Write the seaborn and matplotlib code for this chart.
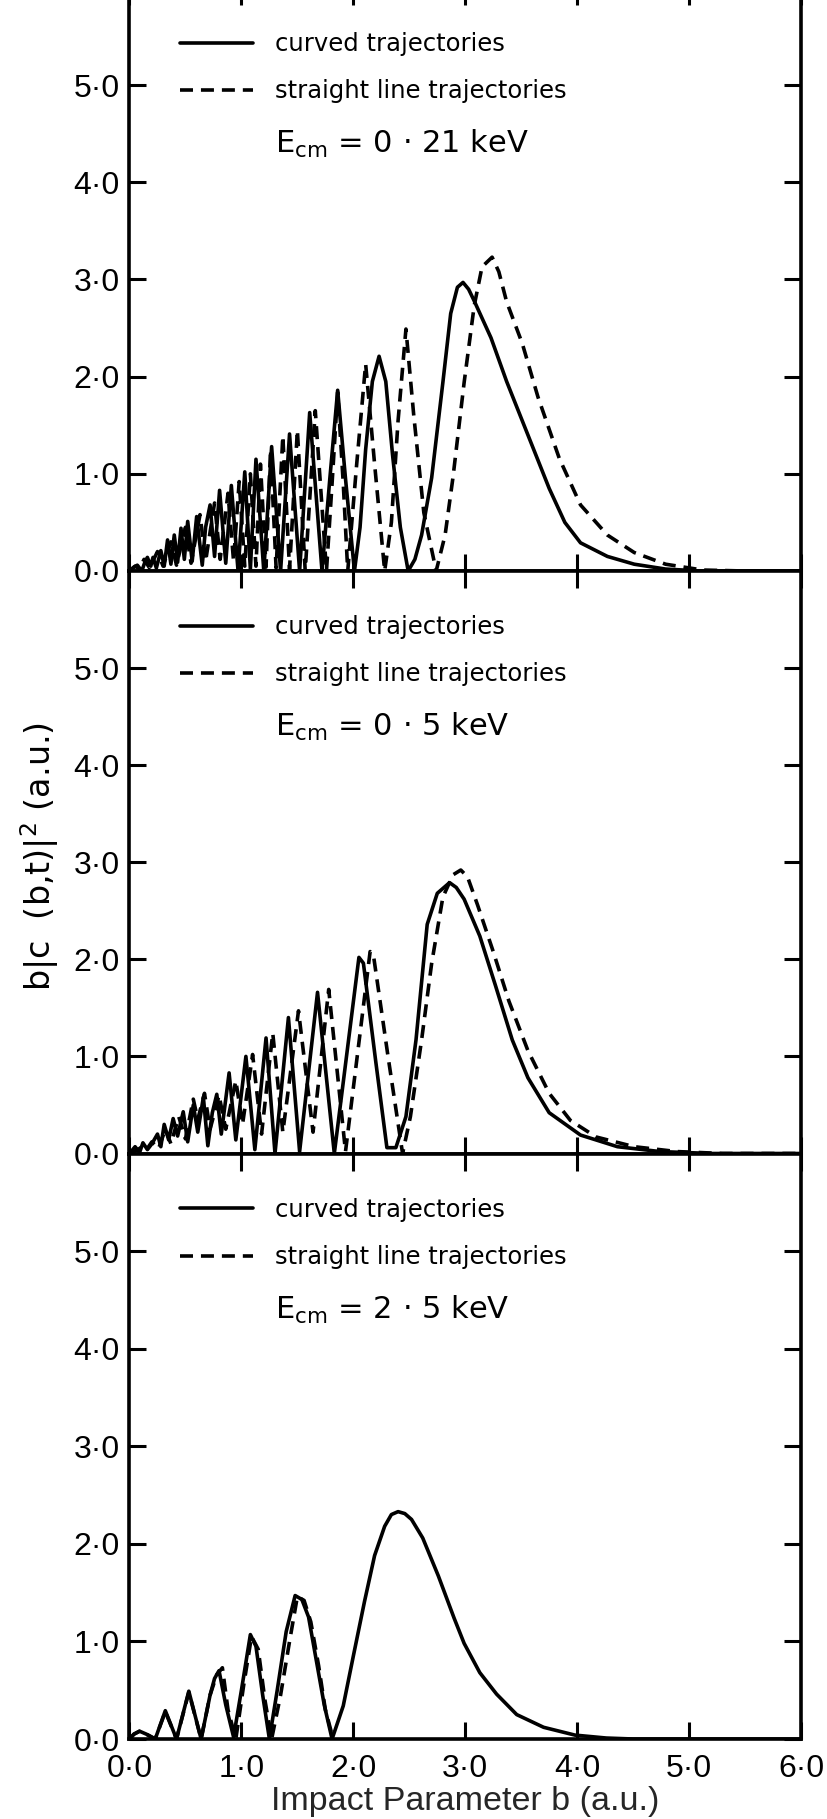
import numpy as np
import pandas as pd
import matplotlib
matplotlib.use("Agg")
import matplotlib.pyplot as plt
import seaborn as sns

# ---- data: impact-parameter weighted capture probability b|c(b,t)|^2 ----
# (b, value) pairs, E_cm = 0.21 keV
curved_021 = [
    (0.00, 0.00), (0.04, 0.04), (0.07, 0.06), (0.11, 0.00), (0.14, 0.10), (0.16, 0.14),
    (0.19, 0.05), (0.21, 0.14), (0.24, 0.03), (0.28, 0.21), (0.31, 0.05), (0.34, 0.32),
    (0.37, 0.07), (0.40, 0.37), (0.43, 0.09), (0.46, 0.44), (0.49, 0.12), (0.52, 0.51),
    (0.56, 0.10), (0.60, 0.56), (0.65, 0.06), (0.68, 0.45), (0.72, 0.68), (0.76, 0.15),
    (0.805, 0.83), (0.86, 0.08), (0.91, 0.88), (0.97, 0.00), (1.03, 1.02), (1.08, 0.02),
    (1.13, 1.15), (1.20, 0.00), (1.27, 1.28), (1.35, 0.00), (1.43, 1.41), (1.52, 0.00),
    (1.61, 1.63), (1.72, 0.00), (1.79, 0.95), (1.86, 1.86), (1.93, 0.95), (2.01, 0.00),
    (2.06, 0.45), (2.11, 1.25), (2.17, 1.95), (2.23, 2.21), (2.29, 1.95), (2.35, 1.20),
    (2.42, 0.45), (2.49, 0.00), (2.55, 0.12), (2.61, 0.37), (2.70, 0.96), (2.80, 1.94),
    (2.87, 2.65), (2.93, 2.92), (2.98, 2.97), (3.03, 2.90), (3.08, 2.78), (3.23, 2.40),
    (3.37, 1.95), (3.56, 1.40), (3.75, 0.85), (3.89, 0.50), (4.03, 0.29), (4.27, 0.15),
    (4.51, 0.07), (4.79, 0.02), (5.10, 0.00), (6.00, 0.00),
]
straight_021 = [
    (0.00, 0.00), (0.05, 0.05), (0.09, 0.02), (0.13, 0.12), (0.18, 0.03), (0.25, 0.20),
    (0.30, 0.05), (0.37, 0.30), (0.42, 0.06), (0.50, 0.45), (0.55, 0.08), (0.63, 0.58),
    (0.68, 0.10), (0.76, 0.70), (0.81, 0.12), (0.88, 0.80), (0.93, 0.10), (0.98, 0.92),
    (1.03, 0.05), (1.08, 1.00), (1.13, 0.05), (1.17, 1.10), (1.22, 0.04), (1.26, 1.25),
    (1.31, 0.03), (1.37, 1.39), (1.43, 0.02), (1.50, 1.45), (1.57, 0.00), (1.66, 1.65),
    (1.76, 0.00), (1.81, 0.90), (1.86, 1.84), (1.91, 0.90), (1.95, 0.00), (2.03, 1.10),
    (2.11, 2.13), (2.19, 1.10), (2.28, 0.00), (2.34, 0.50), (2.40, 1.55), (2.47, 2.49),
    (2.54, 1.60), (2.63, 0.60), (2.74, 0.00), (2.82, 0.37), (2.89, 0.96), (2.99, 1.94),
    (3.08, 2.73), (3.15, 3.13), (3.24, 3.23), (3.30, 3.08), (3.37, 2.77), (3.51, 2.34),
    (3.65, 1.79), (3.84, 1.16), (4.03, 0.68), (4.27, 0.37), (4.51, 0.19), (4.79, 0.07),
    (5.12, 0.01), (5.50, 0.00), (6.00, 0.00),
]

# E_cm = 0.5 keV
curved_05 = [
    (0.00, 0.00), (0.05, 0.07), (0.09, 0.01), (0.12, 0.11), (0.16, 0.04), (0.20, 0.10),
    (0.25, 0.20), (0.28, 0.07), (0.31, 0.30), (0.35, 0.14), (0.39, 0.36), (0.43, 0.18),
    (0.48, 0.43), (0.52, 0.12), (0.57, 0.50), (0.61, 0.22), (0.66, 0.58), (0.70, 0.08),
    (0.74, 0.42), (0.78, 0.61), (0.82, 0.20), (0.89, 0.83), (0.95, 0.14), (1.04, 1.00),
    (1.12, 0.04), (1.22, 1.19), (1.30, 0.00), (1.42, 1.40), (1.52, 0.02), (1.68, 1.66),
    (1.83, 0.00), (2.05, 2.02), (2.09, 1.96), (2.20, 0.95), (2.30, 0.06), (2.38, 0.06),
    (2.47, 0.38), (2.56, 1.17), (2.66, 2.36), (2.75, 2.68), (2.86, 2.79), (2.92, 2.74),
    (2.99, 2.62), (3.13, 2.24), (3.27, 1.73), (3.42, 1.17), (3.56, 0.78), (3.75, 0.42),
    (4.03, 0.19), (4.36, 0.07), (4.74, 0.02), (5.20, 0.00), (6.00, 0.00),
]
straight_05 = [
    (0.00, 0.00), (0.06, 0.03), (0.10, 0.06), (0.14, 0.02), (0.20, 0.12), (0.26, 0.05),
    (0.32, 0.25), (0.37, 0.10), (0.44, 0.38), (0.50, 0.15), (0.57, 0.56), (0.61, 0.35),
    (0.67, 0.62), (0.72, 0.25), (0.80, 0.60), (0.86, 0.25), (0.95, 0.75), (1.01, 0.30),
    (1.10, 1.02), (1.18, 0.20), (1.28, 1.24), (1.37, 0.22), (1.51, 1.47), (1.64, 0.22),
    (1.78, 1.69), (1.93, 0.02), (2.15, 2.08), (2.18, 2.04), (2.31, 1.00), (2.44, 0.00),
    (2.51, 0.38), (2.61, 1.17), (2.70, 1.96), (2.80, 2.64), (2.89, 2.87), (2.96, 2.92),
    (3.02, 2.85), (3.11, 2.56), (3.25, 2.08), (3.39, 1.57), (3.56, 1.06), (3.75, 0.62),
    (3.94, 0.34), (4.17, 0.17), (4.51, 0.07), (4.89, 0.02), (5.30, 0.00), (6.00, 0.00),
]

# E_cm = 2.5 keV
curved_25 = [
    (0.00, 0.00), (0.04, 0.05), (0.09, 0.08), (0.15, 0.05), (0.23, 0.00), (0.32, 0.29),
    (0.42, 0.00), (0.53, 0.49), (0.64, 0.00), (0.72, 0.45), (0.76, 0.62), (0.80, 0.70),
    (0.86, 0.35), (0.93, 0.02), (1.00, 0.50), (1.08, 1.07), (1.13, 0.95), (1.19, 0.45),
    (1.25, 0.00), (1.32, 0.50), (1.40, 1.10), (1.48, 1.47), (1.54, 1.43), (1.60, 1.25),
    (1.67, 0.80), (1.74, 0.35), (1.81, 0.00), (1.91, 0.34), (2.00, 0.85), (2.10, 1.41),
    (2.19, 1.88), (2.28, 2.18), (2.34, 2.30), (2.40, 2.33), (2.46, 2.31), (2.52, 2.25),
    (2.62, 2.06), (2.76, 1.67), (2.90, 1.24), (2.99, 0.98), (3.13, 0.68), (3.28, 0.46),
    (3.46, 0.25), (3.70, 0.12), (3.98, 0.04), (4.26, 0.01), (4.50, 0.00), (6.00, 0.00),
]
straight_25 = [
    (0.00, 0.00), (0.04, 0.05), (0.09, 0.08), (0.15, 0.05), (0.23, 0.00), (0.32, 0.28),
    (0.42, 0.00), (0.53, 0.48), (0.64, 0.00), (0.72, 0.45), (0.78, 0.66), (0.83, 0.73),
    (0.88, 0.30), (0.95, 0.00), (1.02, 0.55), (1.09, 1.05), (1.15, 0.92), (1.21, 0.40),
    (1.27, 0.00), (1.35, 0.45), (1.43, 1.00), (1.50, 1.46), (1.56, 1.42), (1.62, 1.20),
    (1.69, 0.75), (1.75, 0.30), (1.82, 0.00),
]

energy_labels = ["0 · 21", "0 · 5", "2 · 5"]
series_labels = ["curved trajectories", "straight line trajectories"]
tick_values = [0, 1, 2, 3, 4, 5, 6]
tick_text = ["0·0", "1·0", "2·0", "3·0", "4·0", "5·0", "6·0"]
x_title = "Impact Parameter b (a.u.)"
y_title = "b|c  (b,t)|$^{2}$ (a.u.)"

panels = [
    (curved_021, straight_021, energy_labels[0]),
    (curved_05, straight_05, energy_labels[1]),
    (curved_25, straight_25, energy_labels[2]),
]

# ---- style ----
sns.set_theme(style="white")
plt.rcParams["font.family"] = ["DejaVu Sans"]
plt.rcParams["mathtext.fontset"] = "dejavusans"
plt.rcParams["axes.edgecolor"] = "black"
plt.rcParams["text.color"] = "black"
plt.rcParams["xtick.color"] = "black"
plt.rcParams["ytick.color"] = "black"

W, H = 828, 1819
fig = plt.figure(figsize=(W / 100, H / 100), dpi=100, facecolor="white")

left_px, right_px = 129.5, 801
panel_edges_px = [(-12, 571), (571, 1153.5), (1153.5, 1739)]

label_family = ["Liberation Sans", "DejaVu Sans"]
tick_font = dict(family=label_family, size=23)
dash_pattern = (3.6, 2.2)
lw = 2.6
spine_w = 2.6

for i, (curved, straight, energy) in enumerate(panels):
    top_px, bot_px = panel_edges_px[i]
    ax = fig.add_axes([left_px / W, 1 - bot_px / H,
                       (right_px - left_px) / W, (bot_px - top_px) / H])
    ax.set_facecolor("white")

    df_c = pd.DataFrame(curved, columns=["b", "v"])
    df_s = pd.DataFrame(straight, columns=["b", "v"])
    sns.lineplot(data=df_c, x="b", y="v", ax=ax, color="black", linewidth=lw,
                 estimator=None, sort=False, label=series_labels[0])
    sns.lineplot(data=df_s, x="b", y="v", ax=ax, color="black", linewidth=lw,
                 estimator=None, sort=False, label=series_labels[1])
    ax.lines[-1].set_dashes(dash_pattern)
    for ln in ax.lines:
        ln.set_solid_joinstyle("round")
        ln.set_dash_joinstyle("round")

    ax.set_xlim(0, 6)
    ax.set_ylim(0, 6)
    ax.set_xlabel("")
    ax.set_ylabel("")

    for sp in ax.spines.values():
        sp.set_visible(True)
        sp.set_linewidth(spine_w)
        sp.set_color("black")

    ax.set_xticks(tick_values)
    ax.set_yticks(tick_values[:-1])
    ax.set_yticklabels(tick_text[:-1], fontdict=tick_font)

    ax.tick_params(axis="y", which="major", direction="in", length=12, width=2.2,
                   left=True, right=True, labelleft=True, labelright=False, pad=7)
    ax.tick_params(axis="x", which="major", direction="in", length=12, width=2.2,
                   top=True, bottom=True, labeltop=False, labelbottom=(i == 2), pad=11)
    if i == 2:
        ax.set_xticklabels(tick_text, fontdict=tick_font)
        ax.set_xlabel(x_title, fontsize=24.5, family=label_family, labelpad=1)

    handles, labels = ax.get_legend_handles_labels()
    ax.legend(handles, labels, loc="center left", bbox_to_anchor=(0.45, 5.18),
              bbox_transform=ax.transData, frameon=False, fontsize=17.5,
              handlelength=3.0, handletextpad=0.9, labelspacing=0.95,
              borderpad=0, borderaxespad=0)

    ax.text(1.30, 4.30, "E$_{\\mathrm{cm}}$ = " + energy + " keV", fontsize=22,
            ha="left", va="baseline")

fig.text(40 / W, 1 - 857 / H, y_title, rotation=90, fontsize=24,
         ha="center", va="center")

fig.savefig("out.png", dpi=100, facecolor="white")
